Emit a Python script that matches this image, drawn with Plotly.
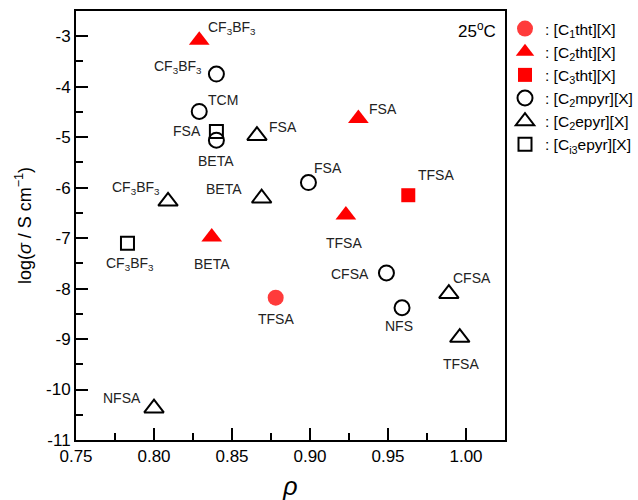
import plotly.graph_objects as go

# ---------------- data ----------------
c1tht_x = [0.878]
c1tht_y = [-8.18]
c1tht_lab = ["TFSA"]

c2tht_x = [0.829, 0.837, 0.931, 0.923]
c2tht_y = [-3.08, -6.98, -4.63, -6.54]
c2tht_lab = ["CF<sub>3</sub>BF<sub>3</sub>", "BETA", "FSA", "TFSA"]

c3tht_x = [0.963]
c3tht_y = [-6.15]
c3tht_lab = ["TFSA"]

c2mpyr_x = [0.840, 0.829, 0.840, 0.899, 0.949, 0.959]
c2mpyr_y = [-3.75, -4.49, -5.06, -5.90, -7.69, -8.38]
c2mpyr_lab = ["CF<sub>3</sub>BF<sub>3</sub>", "TCM", "BETA", "FSA", "CFSA", "NFS"]

c2epyr_x = [0.866, 0.809, 0.869, 0.800, 0.989, 0.996]
c2epyr_y = [-4.97, -6.27, -6.21, -10.37, -8.10, -8.97]
c2epyr_lab = ["FSA", "CF<sub>3</sub>BF<sub>3</sub>", "BETA", "NFSA", "CFSA", "TFSA"]

ci3epyr_x = [0.840, 0.783]
ci3epyr_y = [-4.89, -7.10]
ci3epyr_lab = ["FSA", "CF<sub>3</sub>BF<sub>3</sub>"]

legend_names = [": [C<sub>1</sub>tht][X]", ": [C<sub>2</sub>tht][X]", ": [C<sub>3</sub>tht][X]",
                ": [C<sub>2</sub>mpyr][X]", ": [C<sub>2</sub>epyr][X]", ": [C<sub>i3</sub>epyr][X]"]

x_ticks = [0.75, 0.80, 0.85, 0.90, 0.95, 1.00]
x_ticktext = ["0.75", "0.80", "0.85", "0.90", "0.95", "1.00"]
y_ticks = [-11, -10, -9, -8, -7, -6, -5, -4, -3]
y_ticktext = ["-11", "-10", "-9", "-8", "-7", "-6", "-5", "-4", "-3"]

# ---------------- label offsets (pixels, styling) ----------------
c1tht_off = [(0, 21)]
c2tht_off = [(33, -12), (0, 27), (25, -10), (-2, 28)]
c3tht_off = [(28, -20)]
c2mpyr_off = [(-38, -7), (24, -11), (0, 21), (20, -15), (-36, 1), (-3, 18)]
c2epyr_off = [(26, -9), (-32, -13), (-38, -9), (-32, -10), (23, -16), (1, 26)]
ci3epyr_off = [(-29, -1), (3, 21)]

RED = "#ff0000"
series = [
    (c1tht_x, c1tht_y, c1tht_lab, c1tht_off, dict(symbol="circle", color="#ff3b3b", size=16, line=dict(width=0))),
    (c2tht_x, c2tht_y, c2tht_lab, c2tht_off, dict(symbol="triangle-up", color=RED, size=18, line=dict(width=0))),
    (c3tht_x, c3tht_y, c3tht_lab, c3tht_off, dict(symbol="square", color=RED, size=14, line=dict(width=0))),
    (c2mpyr_x, c2mpyr_y, c2mpyr_lab, c2mpyr_off, dict(symbol="circle-open", color="black", size=15, line=dict(width=2))),
    (c2epyr_x, c2epyr_y, c2epyr_lab, c2epyr_off, dict(symbol="triangle-up-open", color="black", size=17, line=dict(width=2))),
    (ci3epyr_x, ci3epyr_y, ci3epyr_lab, ci3epyr_off, dict(symbol="square-open", color="black", size=13, line=dict(width=2))),
]

FONT = "Liberation Sans, Arial, sans-serif"
fig = go.Figure()
annotations = []
for (xs, ys, labs, offs, mk), name in zip(series, legend_names):
    fig.add_trace(go.Scatter(x=xs, y=ys, mode="markers", marker=mk, name=name, hoverinfo="x+y"))
    for x, y, t, (dx, dy) in zip(xs, ys, labs, offs):
        annotations.append(dict(x=x, y=y, xref="x", yref="y", text=t, showarrow=False,
                                xshift=dx, yshift=-dy, font=dict(size=14, color="#222222", family=FONT)))

annotations.append(dict(x=1, y=1, xref="paper", yref="paper", xanchor="right", yanchor="top",
                        text="25<sup>o</sup>C", showarrow=False, xshift=-7, yshift=-6,
                        font=dict(size=17, color="black", family=FONT)))

axis_common = dict(showline=True, linecolor="black", linewidth=2, mirror=True, automargin=False,
                   ticks="inside", ticklen=12, tickwidth=2, tickcolor="black",
                   showgrid=False, zeroline=False, tickfont=dict(size=17, color="black", family=FONT))

fig.update_xaxes(range=[0.75, 1.025], tickvals=x_ticks, ticktext=x_ticktext,
                 minor=dict(ticks="inside", ticklen=7, tickwidth=2, tickcolor="black", dtick=0.025, tick0=0.75),
                 title=dict(text="<i>ρ</i>", font=dict(size=25, color="black", family=FONT), standoff=12),
                 **axis_common)
fig.update_yaxes(range=[-11, -2.5], tickvals=y_ticks, ticktext=y_ticktext,
                 minor=dict(ticks="inside", ticklen=7, tickwidth=2, tickcolor="black", dtick=0.5, tick0=-11),
                 title=dict(text="log(<i>σ</i> / S cm<sup>−1</sup>)", font=dict(size=18, color="black", family=FONT), standoff=10),
                 **axis_common)

W, H = 638, 500
fig.update_layout(
    width=W, height=H,
    margin=dict(l=76, r=132, t=11, b=60),
    plot_bgcolor="white", paper_bgcolor="white",
    annotations=annotations,
    legend=dict(xref="container", yref="container", x=505 / W, xanchor="left", y=1 - 12 / H, yanchor="top",
                font=dict(size=15.5, color="black", family=FONT),
                bgcolor="rgba(0,0,0,0)", tracegroupgap=0, itemwidth=30),
    font=dict(family=FONT),
)

# remove the browser's default 8px body margin so the figure fills the window exactly
fig.write_html("out.html", config={"displayModeBar": False},
               post_script="document.body.style.margin='0';document.documentElement.style.overflow='hidden';")
